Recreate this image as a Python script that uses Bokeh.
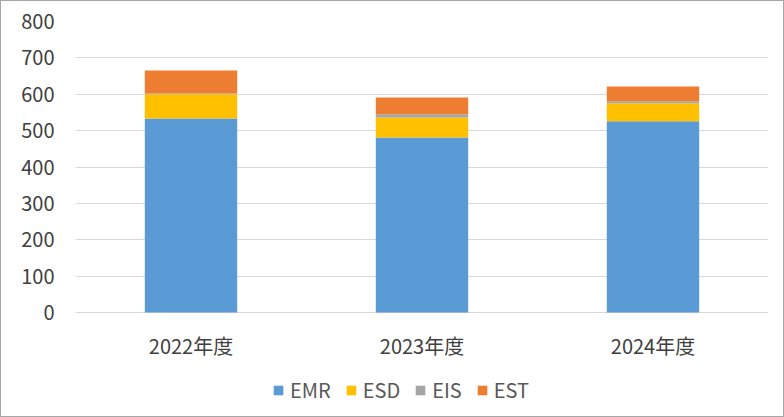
from bokeh.plotting import figure
from bokeh.models import ColumnDataSource, Legend, LegendItem
from bokeh.core.properties import value
from bokeh.embed import file_html
from bokeh.resources import INLINE

categories = ["2022年度", "2023年度", "2024年度"]
series = ["EMR", "ESD", "EIS", "EST"]
emr = [533, 481, 526]
esd = [67, 55, 49]
eis = [2, 9, 6]
est = [63, 46, 40]
colors = ["#5b9bd5", "#ffc000", "#a5a5a5", "#ed7d31"]
y_ticks = [0, 100, 200, 300, 400, 500, 600, 700, 800]
baseline = [0, 0, 0]

FONT = "Noto Sans CJK JP"

source = ColumnDataSource(data=dict(cat=categories, EMR=emr, ESD=esd, EIS=eis, EST=est, base=baseline))

# frame spans 21..412 px; value 0 sits at 312 px (291 px per 800 units)
y_bottom = -(100 * 800 / 291)
p = figure(x_range=categories, y_range=(y_bottom, 800),
           frame_width=693, frame_height=391,
           x_axis_location=None,
           output_backend="svg", toolbar_location=None)
p.min_border_left = 74
p.min_border_right = 15
p.min_border_top = 20
p.min_border_bottom = 4
p.styles = {"border": "1px solid #a6a6a6"}

renderers = p.vbar_stack(series, x="cat", width=0.4, color=colors, source=source, line_color=None)

p.outline_line_color = None
p.xgrid.grid_line_color = None
p.ygrid.grid_line_color = "#d9d9d9"
p.ygrid.ticker = y_ticks

p.yaxis.ticker = y_ticks
p.yaxis.axis_line_color = None
p.yaxis.major_tick_line_color = None
p.yaxis.major_tick_out = 0
p.yaxis.minor_tick_line_color = None
p.yaxis.major_label_standoff = 21
p.yaxis.major_label_text_font = FONT
p.yaxis.major_label_text_font_size = "20px"
p.yaxis.major_label_text_color = "#404040"

# category labels under each bar
p.text(x="cat", y="base", text="cat", source=source, y_offset=33,
       text_align="center", text_baseline="middle",
       text_font=value(FONT), text_font_size="20px", text_color="#404040")

items = [LegendItem(label=s, renderers=[r]) for s, r in zip(series, renderers)]
legend = Legend(items=items, orientation="horizontal", location=(197, 8), nrows=1)
legend.label_text_font = FONT
legend.label_text_font_size = "20px"
legend.label_text_color = "#595959"
legend.glyph_width = 12
legend.glyph_height = 12
legend.spacing = 14
legend.label_standoff = 6
legend.border_line_color = None
legend.background_fill_alpha = 0
legend.margin = 0
legend.padding = 0
p.add_layout(legend)

open("out.html", "w").write(file_html(p, INLINE))
